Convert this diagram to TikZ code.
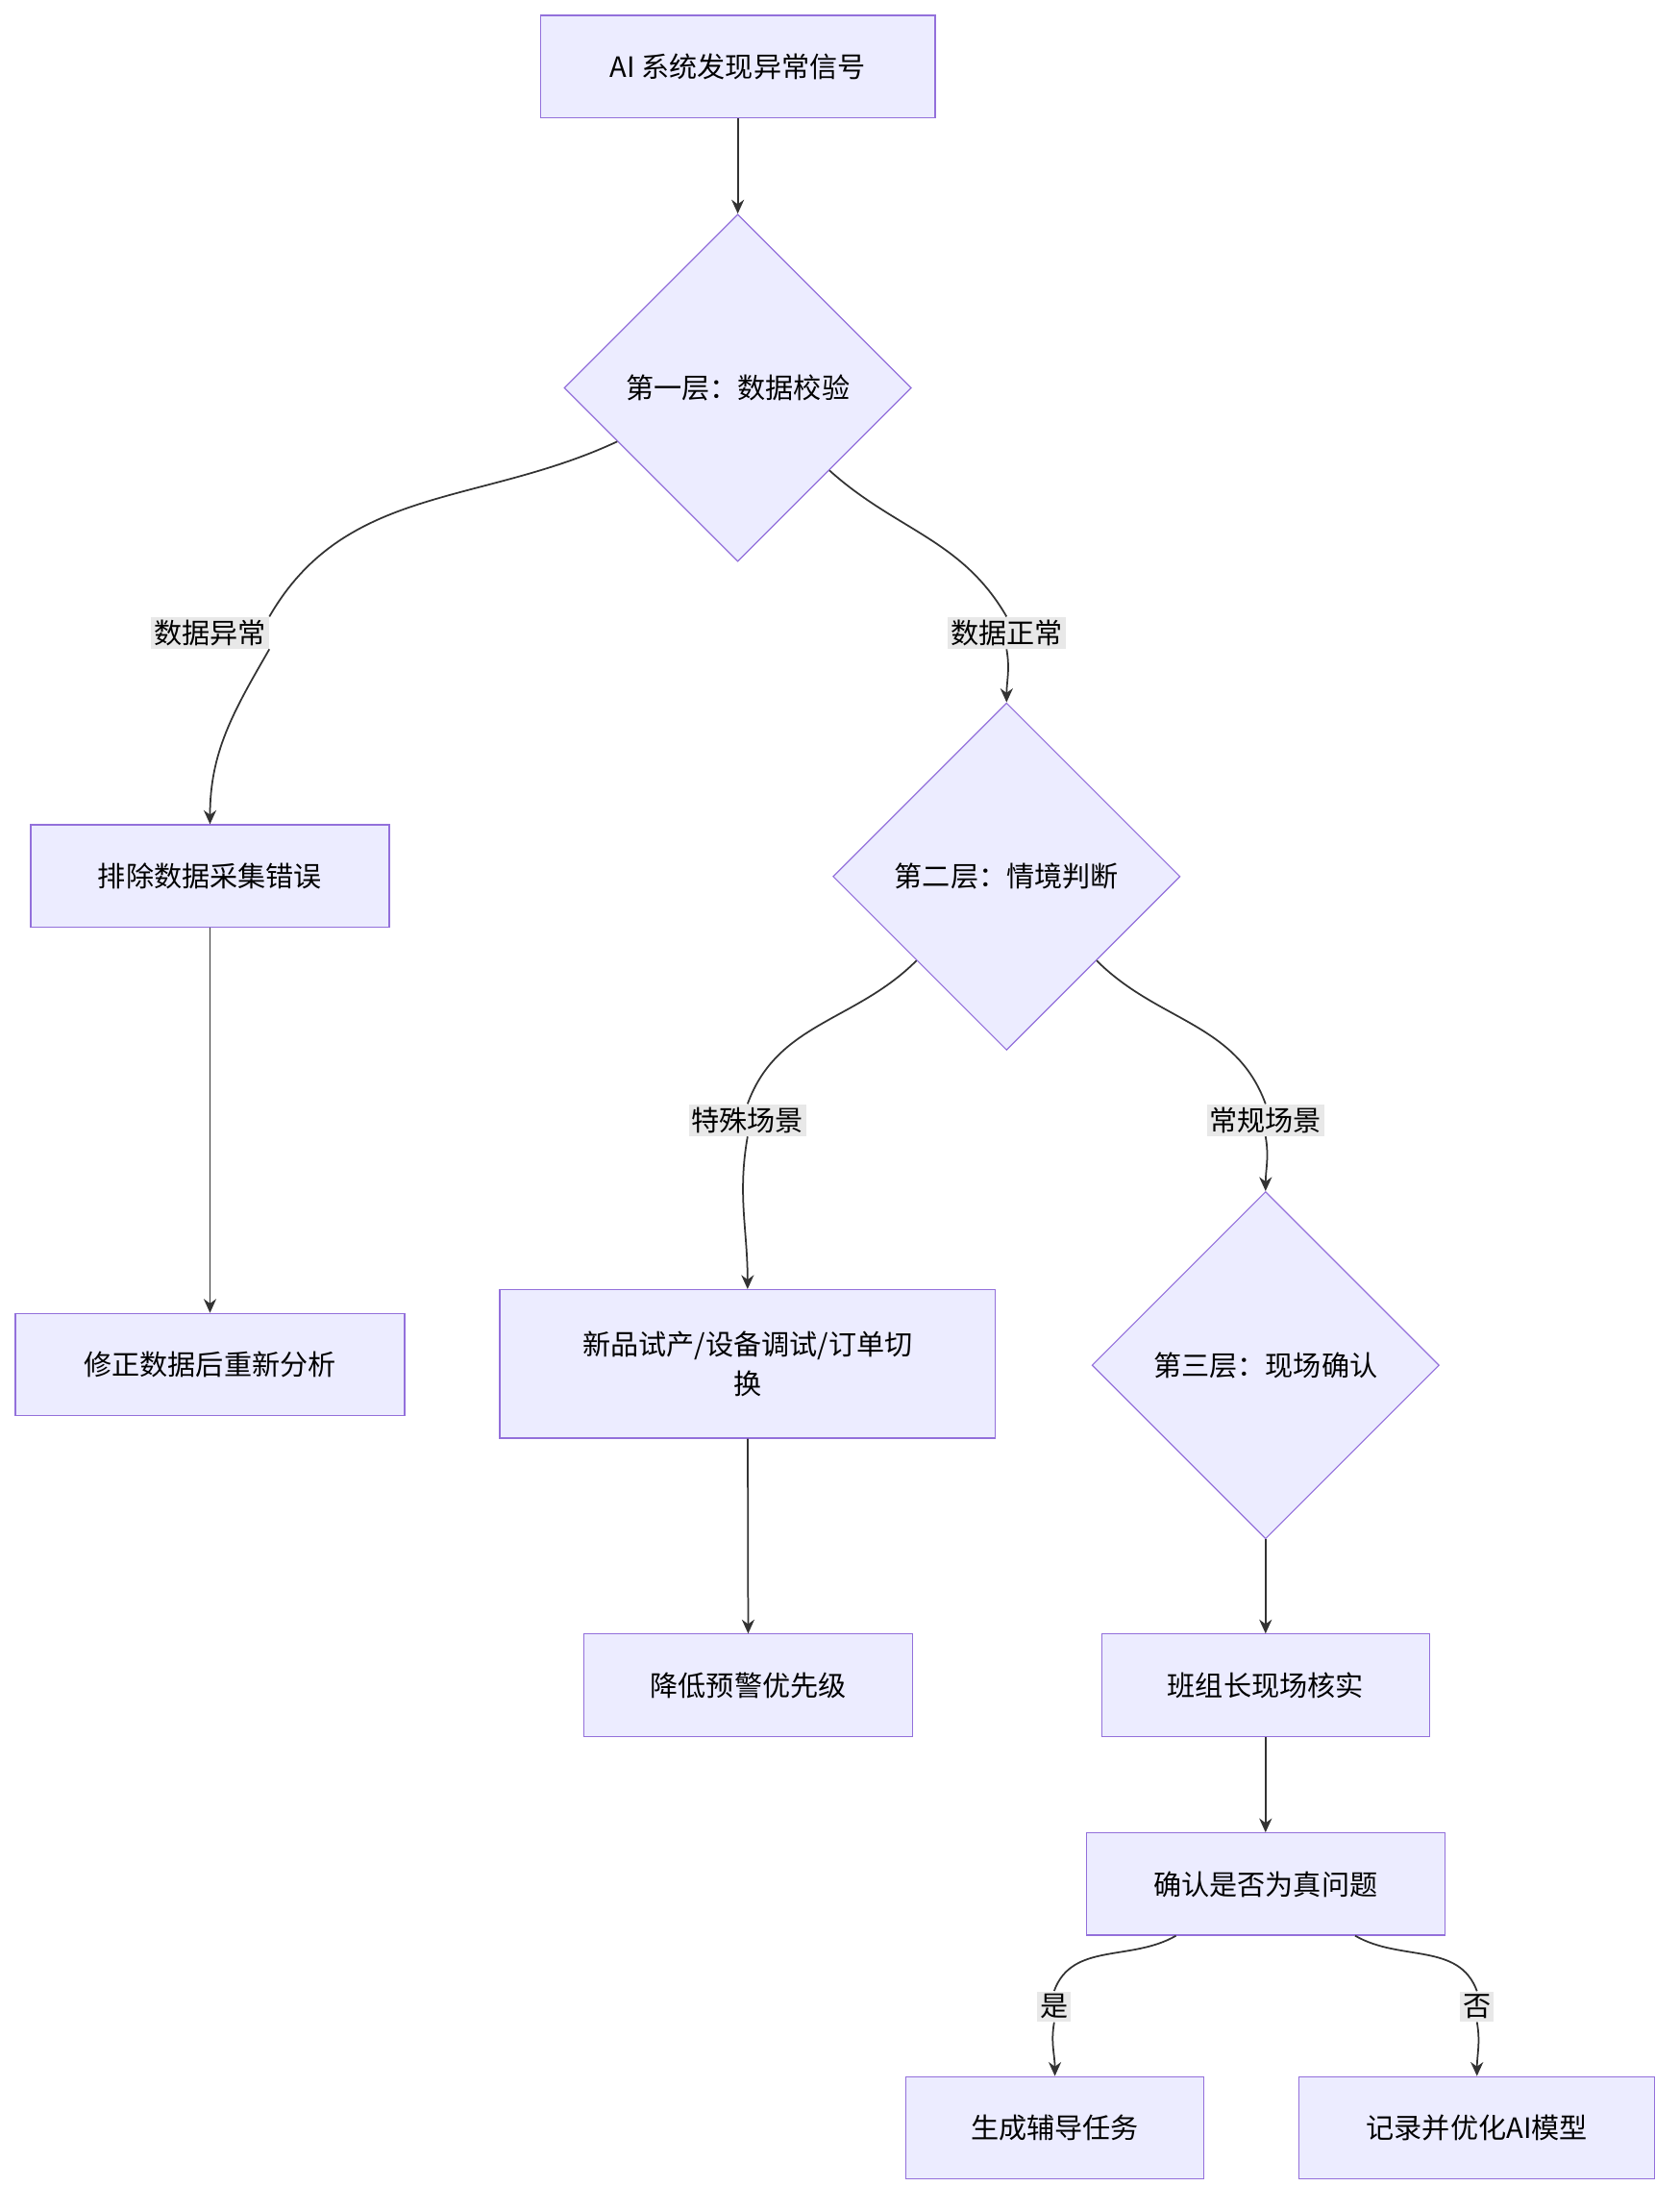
\documentclass[tikz,border=0pt]{standalone}
\usepackage{fontspec}
\setmainfont{Noto Sans CJK SC}
\usetikzlibrary{shapes.geometric,arrows.meta}
\definecolor{boxfill}{HTML}{ECECFF}
\definecolor{boxline}{HTML}{9370DB}
\definecolor{edgeline}{HTML}{333333}
\definecolor{lblfill}{HTML}{E8E8E8}
\tikzset{
	stage/.style={draw=boxline, fill=boxfill, minimum height=36.5pt, font=\fontsize{10}{14}\selectfont, align=center, inner sep=0pt},
	check/.style={diamond, aspect=1, draw=boxline, fill=boxfill, minimum width=124pt, minimum height=124pt, inner sep=0pt, font=\fontsize{10}{14}\selectfont},
	lbl/.style={fill=lblfill, inner sep=1pt, font=\fontsize{10}{14}\selectfont},
	link/.style={draw=edgeline, line width=0.6pt},
	arr/.style={link, -{Stealth[length=5pt,width=4.5pt]}}
}
\begin{document}
\begin{tikzpicture}[x=0.5pt, y=0.5pt]
		\useasboundingbox (0, 0) rectangle (1200, -1579);
		
		\node[stage, minimum width=141pt] (start) at (527, -47.5) {AI 系统发现异常信号};
		\node[check] (layer1) at (527, -277) {第一层：数据校验};
		\node[stage, minimum width=128pt] (purge) at (150, -625.5) {排除数据采集错误};
		\node[check] (layer2) at (719, -626) {第二层：情境判断};
		\node[stage, minimum width=139pt] (redo) at (150, -974.5) {修正数据后重新分析};
		\node[stage, minimum width=177pt, minimum height=53pt] (special) at (534, -974) {新品试产/设备调试/订单切\\换};
		\node[check] (layer3) at (904, -975) {第三层：现场确认};
		\node[stage, minimum width=117.5pt] (lower) at (534.5, -1203.5) {降低预警优先级};
		\node[stage, minimum width=117pt] (verify) at (904, -1203.5) {班组长现场核实};
		\node[stage, minimum width=128pt] (confirm) at (904, -1345.5) {确认是否为真问题};
		\node[stage, minimum width=106.5pt] (coach) at (753.5, -1519.5) {生成辅导任务};
		\node[stage, minimum width=127pt] (record) at (1055, -1519.5) {记录并优化AI模型};
		
		\node[lbl] (l1) at (150, -452) {数据异常};
		\node[lbl] (l2) at (719, -452) {数据正常};
		\node[lbl] (l3) at (534, -800) {特殊场景};
		\node[lbl] (l4) at (904, -800) {常规场景};
		\node[lbl] (l5) at (753, -1433) {是};
		\node[lbl] (l6) at (1055, -1433) {否};
		
		\draw[arr] (start) -- (layer1);
		\draw[link] (layer1.204) to[out=-155, in=60] (l1.north east);
		\draw[arr] (l1.south east) to[out=-120, in=90] (purge.north);
		\draw[link] (layer1.318) to[out=-42, in=120] (l2.north);
		\draw[arr] (l2.south) to[out=-80, in=90] (layer2.north);
		\draw[arr] (purge) -- (redo);
		\draw[link] (layer2.223) to[out=-135, in=70] (l3.north);
		\draw[arr] (l3.south) to[out=-100, in=90] (special.north);
		\draw[link] (layer2.317) to[out=-45, in=110] (l4.north);
		\draw[arr] (l4.south) to[out=-80, in=90] (layer3.north);
		\draw[arr] (special) -- (lower);
		\draw[arr] (layer3) -- (verify);
		\draw[arr] (verify) -- (confirm);
		\draw[link] ([xshift=-32pt]confirm.south) to[out=-150, in=70] (l5.north);
		\draw[arr] (l5.south) to[out=-100, in=90] (coach.north);
		\draw[link] ([xshift=32pt]confirm.south) to[out=-30, in=110] (l6.north);
		\draw[arr] (l6.south) to[out=-80, in=90] (record.north);
	\end{tikzpicture}
\end{document}
